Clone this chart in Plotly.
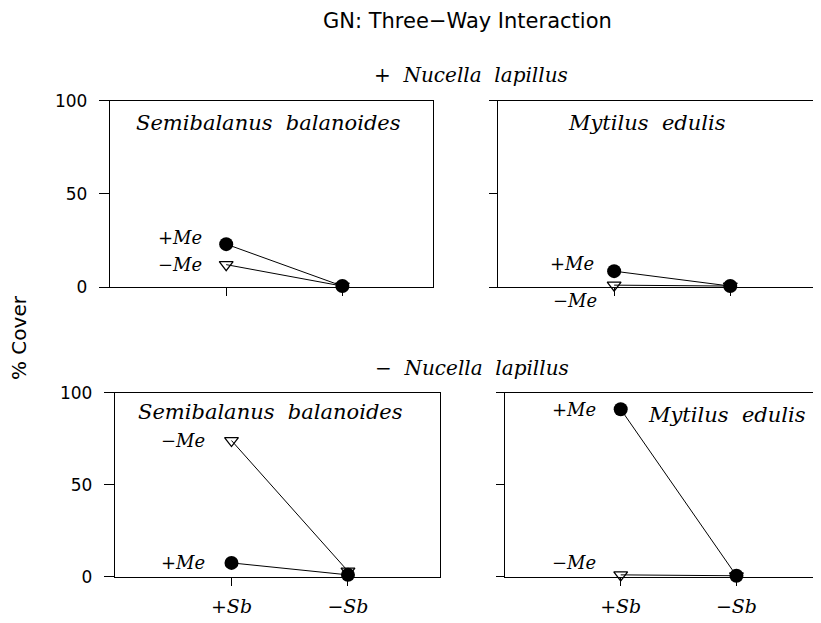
import plotly.graph_objects as go

W, H = 821, 623
OFF = 8  # page body margin offset

TITLE = "GN: Three−Way Interaction"
Y_TITLE = "% Cover"
SB_LEVELS = ["+Sb", "−Sb"]
SB_TICKTEXT = ["+<i>Sb</i>", "−<i>Sb</i>"]
ROW_HEADERS = ["+  <i>Nucella  lapillus</i>", "−  <i>Nucella  lapillus</i>"]
SPECIES = ["Semibalanus  balanoides", "Mytilus  edulis"]
Y_TICKS = [0, 50, 100]
ME_LABELS = ["+<i>Me</i>", "−<i>Me</i>"]

# % cover, order [+Sb, -Sb]
plusN_semi_plusMe = [23, 0.5]
plusN_semi_minusMe = [12, 0.5]
plusN_myt_plusMe = [8.5, 0.5]
plusN_myt_minusMe = [1, 0.5]
minusN_semi_plusMe = [7.5, 1]
minusN_semi_minusMe = [74, 3]
minusN_myt_plusMe = [91, 0.5]
minusN_myt_minusMe = [1, 0.5]


def px(x):
    return (x - OFF) / W


def py(y):
    return 1 - (y - OFF) / H


panels = [
    ("", (110, 433), (287, 100.7), [-1, 1.78], plusN_semi_plusMe, plusN_semi_minusMe, True, False),
    ("2", (498, 829), (287, 100.7), [-1, 1.85], plusN_myt_plusMe, plusN_myt_minusMe, False, False),
    ("3", (115, 440), (576.7, 392.7), [-1, 1.79], minusN_semi_plusMe, minusN_semi_minusMe, True, True),
    ("4", (505, 829), (576.7, 392.7), [-1, 1.80], minusN_myt_plusMe, minusN_myt_minusMe, False, True),
]

me_offsets = [
    ((-22, 7), (-22, 0)),
    ((-18, 8), (-15, -15)),
    ((-24, 0), (-24, 0)),
    ((-23, 0), (-23, 12)),
]

serif = "DejaVu Serif"
sans = "DejaVu Sans"

fig = go.Figure()
layout = dict(
    width=W, height=H,
    margin=dict(l=0, r=0, t=0, b=0),
    paper_bgcolor="white", plot_bgcolor="white",
    showlegend=False,
)
annotations = []

for i, (s, xd, yd, xr, pme, mme, is_left, is_bottom) in enumerate(panels):
    xa = "x" + s
    ya = "y" + s
    fig.add_trace(go.Scatter(
        x=SB_LEVELS, y=pme, xaxis=xa, yaxis=ya, mode="lines+markers",
        line=dict(color="black", width=1),
        marker=dict(symbol="circle", size=14, color="black"),
        cliponaxis=False,
    ))
    fig.add_trace(go.Scatter(
        x=SB_LEVELS, y=mme, xaxis=xa, yaxis=ya, mode="lines+markers",
        line=dict(color="black", width=1),
        marker=dict(symbol="triangle-down-open", size=12, color="black", line=dict(width=1.3)),
        cliponaxis=False,
    ))
    layout["xaxis" + s] = dict(
        domain=[max(0, px(xd[0])), min(1, px(xd[1]))], range=xr, type="category",
        categoryarray=SB_LEVELS, anchor=ya, automargin=False,
        showline=True, linecolor="black", linewidth=1.3,
        mirror=True,
        showgrid=False, zeroline=False,
        ticks="outside", ticklen=8, tickcolor="black",
        tickvals=SB_LEVELS, ticktext=SB_TICKTEXT if is_bottom else ["", ""],
        showticklabels=is_bottom, ticklabelstandoff=4,
        tickfont=dict(family=serif, size=19, color="black"),
        fixedrange=True,
    )
    layout["yaxis" + s] = dict(
        domain=[py(yd[0]), py(yd[1])], range=[0, 100], anchor=xa, automargin=False,
        showline=True, linecolor="black", linewidth=1.3,
        mirror=is_left,
        showgrid=False, zeroline=False,
        ticks="outside", ticklen=10 if is_left else 8, tickcolor="black",
        tickvals=Y_TICKS, showticklabels=is_left, ticklabelstandoff=8,
        tickfont=dict(family=sans, size=17, color="black"),
        fixedrange=True,
    )
    for vals, lab, (dx, dy) in zip([pme, mme], ME_LABELS, me_offsets[i]):
        annotations.append(dict(
            x=0, y=vals[0], xref=xa, yref=ya, text=lab, showarrow=False,
            xanchor="right", yanchor="middle", xshift=dx, yshift=dy,
            font=dict(family=serif, size=18, color="black"),
        ))

species_pos = [(268, 123, 0), (647, 123, 1), (270, 412, 0), (727, 415, 1)]
for x, y, k in species_pos:
    annotations.append(dict(
        x=px(x), y=py(y), xref="paper", yref="paper", text="<i>" + SPECIES[k] + "</i>",
        showarrow=False, xanchor="center", yanchor="middle",
        font=dict(family=serif, size=21, color="black"),
    ))

for (x, y), txt in zip([(471, 75), (472, 368)], ROW_HEADERS):
    annotations.append(dict(
        x=px(x), y=py(y), xref="paper", yref="paper", text=txt,
        showarrow=False, xanchor="center", yanchor="middle",
        font=dict(family=serif, size=20, color="black"),
    ))

annotations.append(dict(
    x=px(468), y=py(21), xref="paper", yref="paper", text=TITLE,
    showarrow=False, xanchor="center", yanchor="middle",
    font=dict(family=sans, size=21, color="black"),
))
annotations.append(dict(
    x=px(19), y=py(338), xref="paper", yref="paper", text=Y_TITLE,
    showarrow=False, xanchor="center", yanchor="middle", textangle=-90,
    font=dict(family=sans, size=20, color="black"),
))

layout["annotations"] = annotations
fig.update_layout(**layout)
fig.write_html("out.html")
